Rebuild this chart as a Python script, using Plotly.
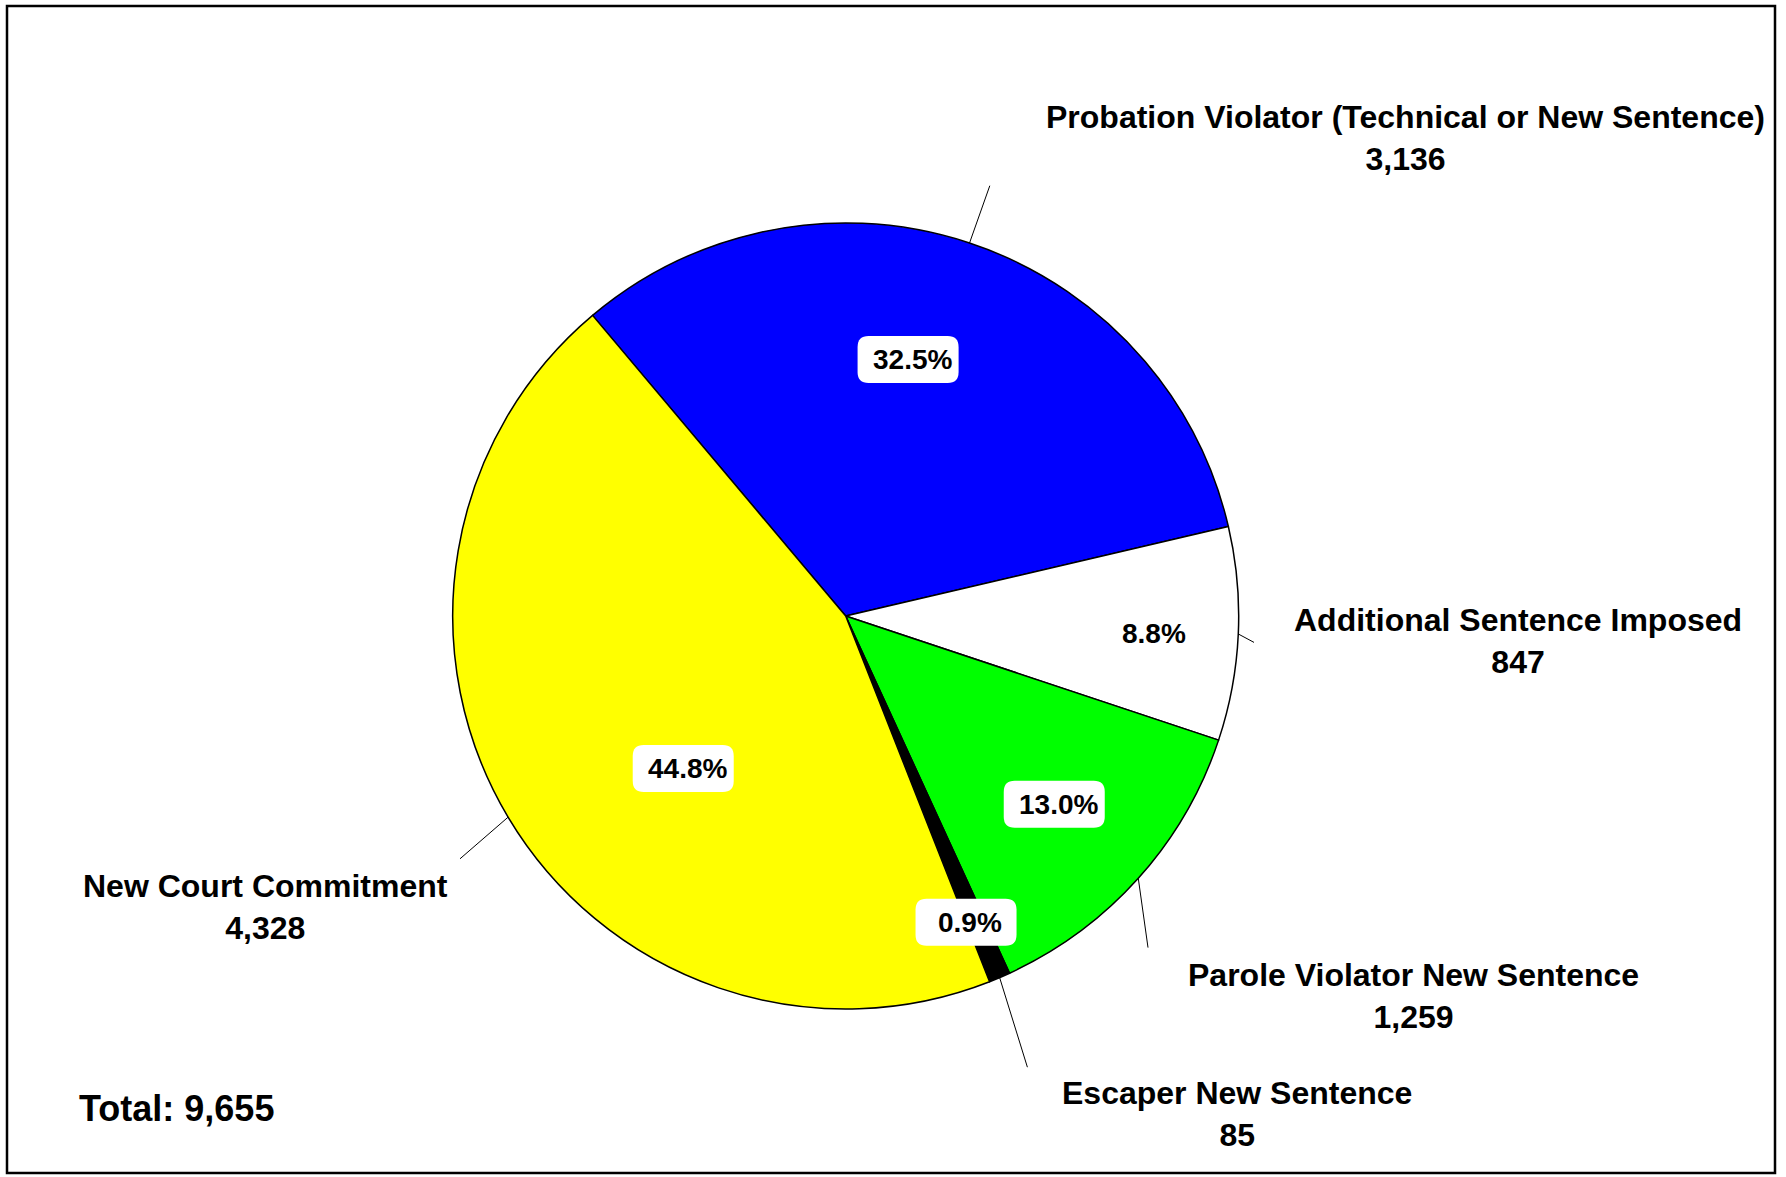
import math
import plotly.graph_objects as go

# data
categories = ["Probation Violator (Technical or New Sentence)", "Additional Sentence Imposed",
              "Parole Violator New Sentence", "Escaper New Sentence", "New Court Commitment"]
counts = [3136, 847, 1259, 85, 4328]
slice_colors = ["#0000ff", "#ffffff", "#00ff00", "#000000", "#ffff00"]

W, H = 1786, 1177
CX, CY, R = 845.7, 616.0, 393.0
ROTATION = -40.1
FONT = "Arial, Liberation Sans, sans-serif"


def px(x):
    return x / W


def py(y):
    return 1 - y / H


def polar(angle, rr):
    a = math.radians(angle)
    return CX + rr * math.sin(a), CY - rr * math.cos(a)


total = sum(counts)
mid_angles = []
acc = 0
for v in counts:
    mid_angles.append(ROTATION + (acc + v / 2) / total * 360)
    acc += v

fig = go.Figure()
fig.add_trace(
    go.Pie(labels=categories,
           values=counts,
           sort=False,
           direction="clockwise",
           rotation=ROTATION,
           textinfo="none",
           hoverinfo="label+value+percent",
           marker=dict(colors=slice_colors, line=dict(color="black", width=1.5)),
           domain=dict(x=[px(CX - R), px(CX + R)], y=[py(CY + R), py(CY - R)]),
           showlegend=False)
)

# label placement (layout only)
pct_nudge = [(-4.7, 0.672), (0.6, 0.776), (0.2, 0.715), (1.6, 0.837), (-12.4, 0.567)]
outer_label_pos = [(1405.6, 138), (1517.7, 641), (1413.5, 996), (1237, 1114), (265.4, 906.5)]
leader_end = [(989.8, 185.7), (1254, 642.4), (1148, 947.6), (1027.4, 1067.2), (460, 858.8)]

shapes = []
annotations = []


def rounded_box(x, y, w, h, r):
    x0, x1, y0, y1 = x - w / 2, x + w / 2, y - h / 2, y + h / 2
    pts = [("M", [(x0 + r, y0)]), ("L", [(x1 - r, y0)]), ("Q", [(x1, y0), (x1, y0 + r)]),
           ("L", [(x1, y1 - r)]), ("Q", [(x1, y1), (x1 - r, y1)]), ("L", [(x0 + r, y1)]),
           ("Q", [(x0, y1), (x0, y1 - r)]), ("L", [(x0, y0 + r)]), ("Q", [(x0, y0), (x0 + r, y0)])]
    path = " ".join(c + " " + " ".join(f"{px(a):.5f},{py(b):.5f}" for a, b in p) for c, p in pts) + " Z"
    return dict(type="path", path=path, xref="paper", yref="paper",
                fillcolor="white", line=dict(width=0))


for i, v in enumerate(counts):
    da, rf = pct_nudge[i]
    bx, by = polar(mid_angles[i] + da, rf * R)
    shapes.append(rounded_box(bx, by, 101, 47, 11))
    annotations.append(dict(text=f"<b>{v / total * 100:.1f}%</b>", x=px(bx + 4), y=py(by),
                            xref="paper", yref="paper", showarrow=False,
                            xanchor="center", yanchor="middle",
                            font=dict(family=FONT, size=28, color="black")))

    lx, ly = outer_label_pos[i]
    annotations.append(dict(text=f"<b>{categories[i]}<br>{v:,}</b>", x=px(lx), y=py(ly),
                            xref="paper", yref="paper", showarrow=False, align="center",
                            xanchor="center", yanchor="middle",
                            font=dict(family=FONT, size=32, color="black")))

    sx, sy = polar(mid_angles[i], R)
    ex, ey = leader_end[i]
    shapes.append(dict(type="line", xref="paper", yref="paper",
                       x0=px(sx), y0=py(sy), x1=px(ex), y1=py(ey),
                       line=dict(color="black", width=1)))

annotations.append(dict(text=f"<b>Total: {total:,}</b>", x=px(77), y=py(1108),
                        xref="paper", yref="paper", showarrow=False,
                        xanchor="left", yanchor="middle",
                        font=dict(family=FONT, size=36, color="black")))

# outer frame
shapes.append(dict(type="rect", xref="paper", yref="paper",
                   x0=px(7), y0=py(6), x1=px(1775), y1=py(1173),
                   line=dict(color="black", width=2.5)))

fig.update_layout(
    width=W,
    height=H,
    margin=dict(l=0, r=0, t=0, b=0, pad=0),
    paper_bgcolor="white",
    plot_bgcolor="white",
    shapes=shapes,
    annotations=annotations,
)

fig.write_html("out.html",
               config=dict(displayModeBar=False),
               post_script="document.body.style.margin='0';document.body.style.overflow='hidden';")
